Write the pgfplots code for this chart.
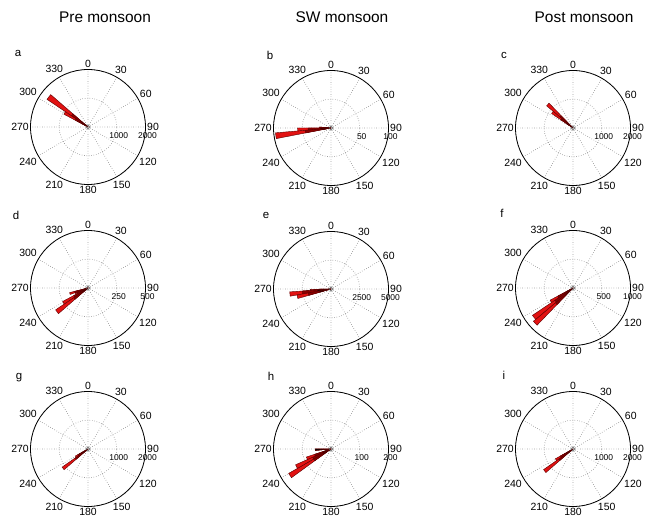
\documentclass[border=0pt]{standalone}
\usepackage{pgfplots}
\pgfplotsset{compat=1.18}
\usepgfplotslibrary{polar}
\usepackage{fontspec}
\setmainfont{Liberation Sans}
\definecolor{rosered}{RGB}{226,18,18}
\definecolor{rosedark}{RGB}{140,0,0}
\definecolor{roseedge}{RGB}{90,0,0}
\newcommand{\wdg}[4]{\addplot[fill=#4, draw=roseedge, line width=0.4pt] coordinates {(#1,0) (#1,#3) (#2,#3) (#1,0)} --cycle;}
\newcommand{\bin}[5]{\wdg{#1}{#2}{#3}{rosered}\wdg{#1}{#2}{#4}{rosedark}\wdg{#1}{#2}{#5}{black}}
\pgfplotsset{
  rose/.style={
    scale only axis, width=115bp, height=115bp, anchor=center,
    xtick={0,30,...,330},
    xticklabels={90,60,30,0,330,300,270,240,210,180,150,120},
    ymin=0,
    grid=major,
    major grid style={dotted, gray!85!black, line width=0.7pt},
    x axis line style={black, line width=0.8pt},
    y axis line style={draw=none},
    major tick length=0pt,
    x filter/.expression={450-x},
    xticklabel style={font=\fontsize{10.5}{12}\selectfont, inner sep=1.5pt},
    yticklabel style={font=\fontsize{8.5}{9}\selectfont, anchor=north, inner sep=1pt, yshift=-4pt, xshift=2pt},
  },
  ctr/.style={only marks, mark=o, mark size=1.8pt, gray!70!black, mark options={line width=0.5pt}},
}
\begin{document}
\begin{tikzpicture}
\path[use as bounding box] (0,0) rectangle (653bp,520bp);
\node[font=\fontsize{15.5}{18}\selectfont] at (105bp,503bp) {Pre monsoon};
\node[font=\fontsize{15.5}{18}\selectfont] at (342bp,503bp) {SW monsoon};
\node[font=\fontsize{15.5}{18}\selectfont] at (584bp,503bp) {Post monsoon};
\foreach \l/\x/\y in {a/18/467, b/270/465, c/504/465, d/16/305, e/266/305, f/502/307, g/19/142, h/271/144, i/504/145}
  \node[font=\fontsize{11.5}{13}\selectfont] at (\x bp,\y bp) {\l};
% a
\begin{polaraxis}[rose, at={(88bp,393bp)}, ymax=2000, ytick={1000,2000}, yticklabels={1000,2000}]
\bin{304}{311}{1720}{700}{300}
\bin{298}{304}{950}{500}{250}
\addplot[ctr] coordinates {(100,0)};
\end{polaraxis}
% b
\begin{polaraxis}[rose, at={(331bp,392bp)}, ymax=100, ytick={50,100}, yticklabels={50,100}]
\bin{259}{265}{97}{45}{15}
\bin{265}{270}{58}{40}{18}
\bin{270}{275}{20}{20}{12}
\addplot[ctr] coordinates {(100,0)};
\end{polaraxis}
% c
\begin{polaraxis}[rose, at={(573bp,392bp)}, ymax=2000, ytick={1000,2000}, yticklabels={1000,2000}]
\bin{310}{316}{1200}{600}{250}
\bin{304}{310}{900}{500}{250}
\addplot[ctr] coordinates {(100,0)};
\end{polaraxis}
% d
\begin{polaraxis}[rose, at={(88bp,232bp)}, ymax=500, ytick={250,500}, yticklabels={250,500}]
\bin{229}{236}{340}{150}{60}
\bin{236}{242}{250}{140}{60}
\bin{244}{250}{120}{100}{60}
\bin{250}{256}{165}{120}{50}
\addplot[ctr] coordinates {(100,0)};
\end{polaraxis}
% e
\begin{polaraxis}[rose, at={(331bp,231bp)}, ymax=5000, ytick={2500,5000}, yticklabels={2500,5000}]
\bin{260}{266}{3600}{2500}{1200}
\bin{254}{260}{3000}{2000}{1000}
\bin{266}{269}{1800}{1500}{1000}
\addplot[ctr] coordinates {(100,0)};
\end{polaraxis}
% f
\begin{polaraxis}[rose, at={(573bp,232bp)}, ymax=1000, ytick={500,1000}, yticklabels={500,1000}]
\bin{224}{230}{900}{400}{150}
\bin{230}{236}{850}{380}{150}
\bin{236}{242}{450}{300}{120}
\addplot[ctr] coordinates {(100,0)};
\end{polaraxis}
% g
\begin{polaraxis}[rose, at={(88bp,71bp)}, ymax=2000, ytick={1000,2000}, yticklabels={1000,2000}]
\bin{229}{235}{1100}{550}{250}
\bin{235}{241}{500}{400}{250}
\addplot[ctr] coordinates {(100,0)};
\end{polaraxis}
% h
\begin{polaraxis}[rose, at={(331bp,71bp)}, ymax=200, ytick={100,200}, yticklabels={100,200}]
\bin{234}{240}{170}{70}{30}
\bin{240}{246}{135}{70}{30}
\bin{246}{252}{90}{60}{30}
\bin{265}{270}{55}{55}{55}
\addplot[ctr] coordinates {(100,0)};
\end{polaraxis}
% i
\begin{polaraxis}[rose, at={(573bp,71bp)}, ymax=2000, ytick={1000,2000}, yticklabels={1000,2000}]
\bin{229}{235}{1250}{600}{250}
\bin{235}{241}{700}{500}{250}
\addplot[ctr] coordinates {(100,0)};
\end{polaraxis}
\end{tikzpicture}
\end{document}
